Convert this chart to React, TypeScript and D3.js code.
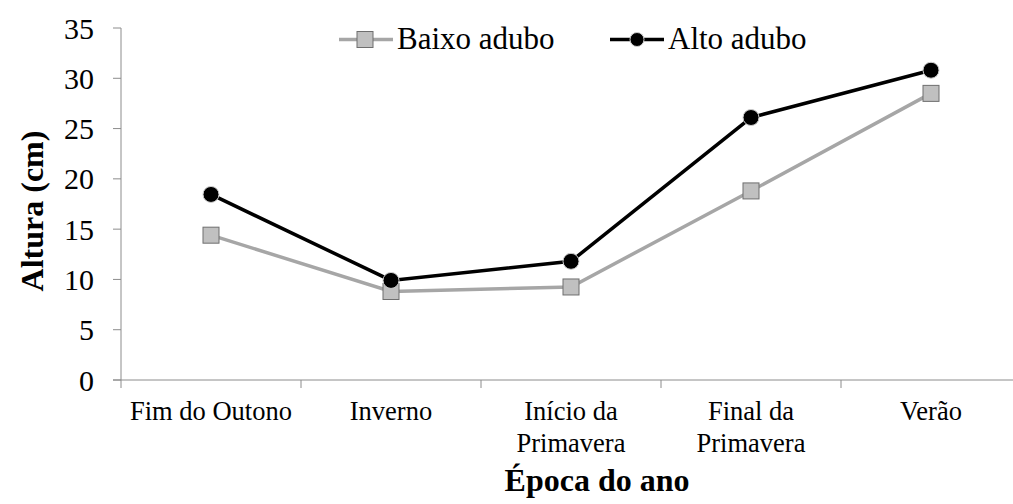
import React from "react";
import * as d3 from "d3";

const categories = [["Fim do Outono"], ["Inverno"], ["Início da", "Primavera"], ["Final da", "Primavera"], ["Verão"]];
const seriesNames = ["Baixo adubo", "Alto adubo"];
const baixo = [14.4, 8.8, 9.25, 18.8, 28.5];
const alto = [18.45, 9.9, 11.8, 26.1, 30.8];
const yTicks = [0, 5, 10, 15, 20, 25, 30, 35];

const FONT = "Liberation Serif";

export default function App() {
  const W = 1013, H = 504;
  const x0 = 121, x1 = 1021, yTop = 28, yBot = 380;
  const keys = categories.map((c) => c.join(" "));
  const x = d3.scaleBand<string>().domain(keys).range([x0, x1]);
  const y = d3.scaleLinear().domain([0, 35]).range([yBot, yTop]);
  const cx = (i: number) => (x(keys[i]) as number) + x.bandwidth() / 2;
  const line = d3.line<number>().x((_, i) => cx(i)).y((d) => y(d));
  const bounds = [...keys.map((k) => x(k) as number), x1];
  return (
    <svg width={W} height={H} fontFamily={FONT} style={{ position: "absolute", left: 0, top: 0 }}>
      <style>{`text, tspan { font-family: "Liberation Serif", Tinos, "Times New Roman", serif; }`}</style>
      <rect width={W} height={H} fill="#fff" />
      {/* axes */}
      <line x1={x0} x2={x0} y1={yTop} y2={yBot} stroke="#8c8c8c" strokeWidth={1} />
      <line x1={x0 - 8} x2={W} y1={yBot} y2={yBot} stroke="#8c8c8c" strokeWidth={1} />
      {yTicks.map((t) => (
        <g key={t}>
          <line x1={x0 - 8} x2={x0} y1={y(t)} y2={y(t)} stroke="#8c8c8c" />
          <text x={94} y={y(t)} dy="0.35em" textAnchor="end" fontSize={30} fill="#000" fontFamily={FONT}>{t}</text>
        </g>
      ))}
      {bounds.map((b, i) => (
        <line key={i} x1={b} x2={b} y1={yBot} y2={yBot + 8} stroke="#8c8c8c" />
      ))}
      {categories.map((c, i) => (
        <text key={i} textAnchor="middle" fontSize={26.5} fill="#000" fontFamily={FONT}>
          {c.map((s, j) => (
            <tspan key={j} x={cx(i)} y={420 + j * 32}>{s}</tspan>
          ))}
        </text>
      ))}
      <text x={597} y={491} textAnchor="middle" fontSize={32} fontWeight="bold" fill="#000" fontFamily={FONT}>Época do ano</text>
      <text transform={`translate(43,211) rotate(-90)`} textAnchor="middle" fontSize={32} fontWeight="bold" fill="#000" fontFamily={FONT}>Altura (cm)</text>
      {/* series */}
      <path d={line(baixo) as string} fill="none" stroke="#a6a6a6" strokeWidth={3.5} />
      <path d={line(alto) as string} fill="none" stroke="#000" strokeWidth={3.5} />
      {baixo.map((v, i) => (
        <rect key={i} x={cx(i) - 8} y={y(v) - 8} width={16} height={16} fill="#c0c0c0" stroke="#6e6e6e" strokeWidth={1} />
      ))}
      {alto.map((v, i) => (
        <circle key={i} cx={cx(i)} cy={y(v)} r={8} fill="#000" stroke="#cfcfcf" strokeWidth={1} />
      ))}
      {/* legend */}
      <line x1={339} x2={393} y1={39.5} y2={39.5} stroke="#a6a6a6" strokeWidth={3.5} />
      <rect x={357} y={31.5} width={16} height={16} fill="#c0c0c0" stroke="#6e6e6e" />
      <text x={397} y={49} fontSize={31} fill="#000" fontFamily={FONT}>{seriesNames[0]}</text>
      <line x1={610} x2={664} y1={39.5} y2={39.5} stroke="#000" strokeWidth={3.5} />
      <circle cx={637} cy={39.5} r={7} fill="#000" stroke="#cfcfcf" />
      <text x={668} y={49} fontSize={31} fill="#000" fontFamily={FONT}>{seriesNames[1]}</text>
    </svg>
  );
}
